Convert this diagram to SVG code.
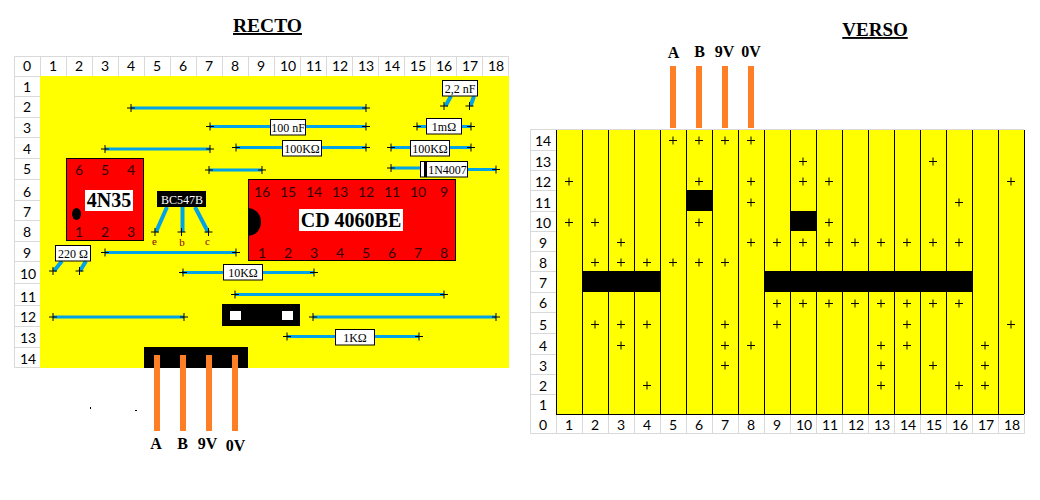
<svg xmlns="http://www.w3.org/2000/svg" width="1040" height="500" viewBox="0 0 1040 500">
<style>
text{font-family:"Liberation Serif","Times New Roman",serif;fill:#000;text-anchor:middle}
.n text,text.n{font-family:Lato,"Liberation Sans",sans-serif;font-size:14px}
.cell{fill:none;stroke:#d9d9d9;stroke-width:1}
.y{fill:#ff0}
.k{fill:#000}
.w{fill:none;stroke:#00a2e8;stroke-width:3}
.l{fill:none;stroke:#00a2e8;stroke-width:4}
.o{fill:#ff7f27}
.v{fill:none;stroke:#000;stroke-width:1}
.b{fill:#fff;stroke:#000;stroke-width:1}
.lab{font-size:12px}
.conn{font-size:16px;font-weight:bold}
.title{font-size:19px;font-weight:bold;text-decoration:underline}
.chip{fill:#f00;stroke:#000;stroke-width:1}
.bold{font-size:20px;font-weight:bold}
.pin{font-family:Lato,"Liberation Sans",sans-serif;font-size:14px;fill:#300}
</style>
<defs>
<path id="p" d="M-4 0h8M0-4v8" fill="none" stroke="#000" stroke-width="1"/>
</defs>
<rect width="1040" height="500" fill="#fff"/>
<text class="title" x="267.500" y="32" style="font-size:19.500px">RECTO</text>
<text class="title" x="875" y="36">VERSO</text>

<g id="recto-board">
<path class="cell" d="M14.500 56.500H508.500V76.500H14.500ZM40.500 56.500V368M66.500 56.500V76.500M92.500 56.500V76.500M118.500 56.500V76.500M144.500 56.500V76.500M170.500 56.500V76.500M196.500 56.500V76.500M222.500 56.500V76.500M248.500 56.500V76.500M274.500 56.500V76.500M300.500 56.500V76.500M326.500 56.500V76.500M352.500 56.500V76.500M378.500 56.500V76.500M404.500 56.500V76.500M430.500 56.500V76.500M456.500 56.500V76.500M482.500 56.500V76.500M14.500 76.500V367.500H40.500M14.500 96.500H40.500M14.500 117.500H40.500M14.500 137.500H40.500M14.500 158.500H40.500M14.500 179.500H40.500M14.500 200.500H40.500M14.500 220.500H40.500M14.500 241.500H40.500M14.500 261.500H40.500M14.500 283.500H40.500M14.500 305.500H40.500M14.500 326.500H40.500M14.500 347.500H40.500"/>
<rect class="y" x="40" y="76" width="469" height="292"/>
<g class="n">
<text x="27" y="71">0</text><text x="53" y="71">1</text><text x="79" y="71">2</text><text x="105" y="71">3</text><text x="131" y="71">4</text><text x="157" y="71">5</text><text x="183" y="71">6</text><text x="209" y="71">7</text><text x="235" y="71">8</text><text x="261" y="71">9</text><text x="288" y="71">10</text><text x="314" y="71">11</text><text x="340" y="71">12</text><text x="366" y="71">13</text><text x="392" y="71">14</text><text x="418" y="71">15</text><text x="444" y="71">16</text><text x="470" y="71">17</text><text x="496" y="71">18</text>
<text x="27" y="92">1</text><text x="27" y="112">2</text><text x="27" y="133">3</text><text x="27" y="154">4</text><text x="27" y="174">5</text><text x="27" y="197">6</text><text x="27" y="217">7</text><text x="27" y="237">8</text><text x="27" y="258">9</text><text x="28" y="279">10</text><text x="28" y="302">11</text><text x="28" y="322">12</text><text x="28" y="343">13</text><text x="28" y="364">14</text>
</g>
</g>

<g id="connectors">
<path class="w" d="M131 108H366M210 126.500H366M105 149H210M236 147.500H366M209 170H262M417 126.500H471M391 147.500H471M391 168H421M467 169.500H496M105 252.500H236M182 272.500H314M235 294.500H444M53 317H184M313 317H496M287 336.500H419"/>
<path class="l" d="M451 96L445.500 106M474 96L470.500 106M62 261L54 271M86 261L80 271M167 207L156 232M182.500 207V232M195 207L208 232"/>
<g>
<use href="#p" x="131" y="108"/><use href="#p" x="366" y="108"/>
<use href="#p" x="210" y="126.500"/><use href="#p" x="366" y="126.500"/>
<use href="#p" x="105" y="149"/><use href="#p" x="210" y="149"/>
<use href="#p" x="236" y="147.500"/><use href="#p" x="366" y="147.500"/>
<use href="#p" x="209" y="170"/><use href="#p" x="262" y="170"/>
<use href="#p" x="417" y="126.500"/><use href="#p" x="471" y="126.500"/>
<use href="#p" x="391" y="147.500"/><use href="#p" x="471" y="147.500"/>
<use href="#p" x="391" y="168"/><use href="#p" x="496" y="169.500"/>
<use href="#p" x="444" y="106"/><use href="#p" x="469.500" y="106"/>
<use href="#p" x="53" y="271"/><use href="#p" x="79.500" y="271"/>
<use href="#p" x="155" y="232"/><use href="#p" x="181.500" y="232"/><use href="#p" x="208.500" y="232"/>
<use href="#p" x="105" y="252.500"/><use href="#p" x="236" y="252.500"/>
<use href="#p" x="183" y="272.500"/><use href="#p" x="314" y="272.500"/>
<use href="#p" x="235" y="294.500"/><use href="#p" x="444" y="294.500"/>
<use href="#p" x="53" y="317"/><use href="#p" x="184" y="317"/>
<use href="#p" x="313" y="317"/><use href="#p" x="496" y="317"/>
<use href="#p" x="287" y="336.500"/><use href="#p" x="419" y="336.500"/>
</g>
</g>

<g id="c-100nf"><rect class="b" x="270.500" y="119.500" width="35" height="15.500"/><text class="lab" x="288" y="131.500">100 nF</text></g>
<g id="r-100k-a"><rect class="b" x="282.500" y="140.500" width="39" height="15.500"/><text class="lab" x="302" y="152.500">100KΩ</text></g>
<g id="r-1m"><rect class="b" x="426.500" y="118.500" width="35" height="15.500"/><text class="lab" x="444" y="130.500">1mΩ</text></g>
<g id="r-100k-b"><rect class="b" x="410.500" y="140.500" width="39" height="15.500"/><text class="lab" x="430" y="152.500">100KΩ</text></g>
<g id="d-1n4007"><rect class="b" x="420.500" y="161.500" width="47" height="15.500"/><rect class="k" x="424" y="161" width="3" height="16"/><text class="lab" x="447.500" y="173.500">1N4007</text></g>
<g id="c-2n2"><rect class="b" x="442.500" y="80.500" width="35" height="15.500"/><text class="lab" x="460" y="92.500">2,2 nF</text></g>
<g id="r-220"><rect class="b" x="55.500" y="245.500" width="35" height="15.500"/><text class="lab" x="73" y="257.500">220 Ω</text></g>
<g id="r-10k"><rect class="b" x="223.500" y="264.500" width="39" height="15.500"/><text class="lab" x="243" y="276.500">10KΩ</text></g>
<g id="r-1k"><rect class="b" x="335.500" y="329.500" width="39" height="15.500"/><text class="lab" x="355" y="341.500">1KΩ</text></g>

<g id="u-4n35">
<rect class="chip" x="66.500" y="158.500" width="77" height="82"/>
<ellipse class="k" cx="76.500" cy="214" rx="4.500" ry="6"/>
<rect x="85" y="190" width="48" height="21" fill="#fff"/>
<text class="bold" x="109" y="207">4N35</text>
<text class="pin" x="79" y="175">6</text><text class="pin" x="105" y="175">5</text><text class="pin" x="131" y="175">4</text>
<text class="pin" x="79" y="237">1</text><text class="pin" x="105" y="237">2</text><text class="pin" x="131" y="237">3</text>
</g>

<g id="q-bc547b">
<rect class="k" x="157" y="191" width="49" height="16"/>
<text x="182" y="204" style="font-size:12px;fill:#fff">BC547B</text>
<text x="154.500" y="245" style="font-size:11px;fill:#800000">e</text>
<text x="182" y="246" style="font-size:11px;fill:#800000">b</text>
<text x="207.500" y="245" style="font-size:11px;fill:#800000">c</text>
</g>

<g id="u-cd4060">
<rect class="chip" x="248.500" y="179.500" width="207" height="81"/>
<path class="k" d="M248 208A13 14 0 0 1 248 236Z"/>
<rect x="299" y="209" width="104" height="22" fill="#fff"/>
<text class="bold" x="351" y="227">CD 4060BE</text>
<text class="pin" x="262" y="197">16</text><text class="pin" x="288" y="197">15</text><text class="pin" x="314" y="197">14</text><text class="pin" x="340" y="197">13</text><text class="pin" x="366" y="197">12</text><text class="pin" x="392" y="197">11</text><text class="pin" x="418" y="197">10</text><text class="pin" x="444" y="197">9</text>
<text class="pin" x="262" y="258">1</text><text class="pin" x="288" y="258">2</text><text class="pin" x="314" y="258">3</text><text class="pin" x="340" y="258">4</text><text class="pin" x="366" y="258">5</text><text class="pin" x="392" y="258">6</text><text class="pin" x="418" y="258">7</text><text class="pin" x="444" y="258">8</text>
</g>

<g id="switch">
<rect class="k" x="222" y="304" width="78" height="22"/>
<rect x="230" y="311" width="11" height="9" fill="#fff"/>
<rect x="282" y="311" width="11" height="9" fill="#fff"/>
</g>

<g id="connector-recto">
<rect class="k" x="144" y="347" width="104" height="21"/>
<rect class="o" x="154" y="355" width="6" height="76"/><rect class="o" x="180" y="355" width="6" height="76"/><rect class="o" x="206" y="355" width="6" height="76"/><rect class="o" x="232" y="355" width="6" height="76"/>
<text class="conn" x="156" y="449">A</text><text class="conn" x="182.500" y="449">B</text><text class="conn" x="207.500" y="449">9V</text><text class="conn" x="235.500" y="451">0V</text>
</g>
<rect class="k" x="90" y="407" width="1" height="2"/><rect class="k" x="135" y="410" width="2" height="1"/>

<g id="verso-board">
<rect class="y" x="556" y="129" width="468" height="285"/>
<path class="cell" d="M530.500 129.500H1024M530.500 129.500V433.500H1024.500V414M530.500 150.500H556M530.500 170.500H556M530.500 190.500H556M530.500 211.500H556M530.500 231.500H556M530.500 251.500H556M530.500 271.500H556M530.500 292.500H556M530.500 312.500H556M530.500 333.500H556M530.500 354.500H556M530.500 374.500H556M530.500 394.500H556M582.500 414V433M608.500 414V433M634.500 414V433M660.500 414V433M686.500 414V433M712.500 414V433M738.500 414V433M764.500 414V433M790.500 414V433M816.500 414V433M842.500 414V433M868.500 414V433M894.500 414V433M920.500 414V433M946.500 414V433M972.500 414V433M998.500 414V433M556.500 414V433"/>
<path class="v" d="M556.500 130V414M582.500 130V414M608.500 130V414M634.500 130V414M660.500 130V414M686.500 130V414M712.500 130V414M738.500 130V414M764.500 130V414M790.500 130V414M816.500 130V414M842.500 130V414M868.500 130V414M894.500 130V414M920.500 130V414M946.500 130V414M972.500 130V414M998.500 130V414M1024.500 130V414M556 414.500H1024"/>
<rect class="k" x="686" y="190" width="26" height="21"/>
<rect class="k" x="790" y="211" width="26" height="20"/>
<rect class="k" x="582" y="271" width="78" height="21"/>
<rect class="k" x="764" y="271" width="209" height="21"/>
<g class="n">
<text x="543" y="145.500">14</text><text x="543" y="166.500">13</text><text x="543" y="186.500">12</text><text x="543" y="207.500">11</text><text x="543" y="227.500">10</text><text x="543" y="247.500">9</text><text x="543" y="267.500">8</text><text x="543" y="288">7</text><text x="543" y="308">6</text><text x="543" y="329.500">5</text><text x="543" y="350.500">4</text><text x="543" y="370.500">3</text><text x="543" y="390.500">2</text><text x="543" y="410">1</text>
<text x="543" y="430">0</text><text x="569" y="430">1</text><text x="595" y="430">2</text><text x="621" y="430">3</text><text x="647" y="430">4</text><text x="673" y="430">5</text><text x="699" y="430">6</text><text x="725" y="430">7</text><text x="751" y="430">8</text><text x="777" y="430">9</text><text x="804" y="430">10</text><text x="830" y="430">11</text><text x="856" y="430">12</text><text x="882" y="430">13</text><text x="908" y="430">14</text><text x="934" y="430">15</text><text x="960" y="430">16</text><text x="986" y="430">17</text><text x="1012" y="430">18</text>
</g>
<g transform="translate(0,140.500)"><use href="#p" x="673"/><use href="#p" x="699"/><use href="#p" x="725"/><use href="#p" x="751"/></g>
<g transform="translate(0,161.500)"><use href="#p" x="803"/><use href="#p" x="933"/></g>
<g transform="translate(0,181.500)"><use href="#p" x="569"/><use href="#p" x="699"/><use href="#p" x="751"/><use href="#p" x="803"/><use href="#p" x="829"/><use href="#p" x="1011"/></g>
<g transform="translate(0,202.500)"><use href="#p" x="751"/><use href="#p" x="959"/></g>
<g transform="translate(0,222.500)"><use href="#p" x="569"/><use href="#p" x="595"/><use href="#p" x="699"/><use href="#p" x="829"/></g>
<g transform="translate(0,242.500)"><use href="#p" x="621"/><use href="#p" x="751"/><use href="#p" x="777"/><use href="#p" x="803"/><use href="#p" x="829"/><use href="#p" x="855"/><use href="#p" x="881"/><use href="#p" x="907"/><use href="#p" x="933"/><use href="#p" x="959"/></g>
<g transform="translate(0,262.500)"><use href="#p" x="595"/><use href="#p" x="621"/><use href="#p" x="647"/><use href="#p" x="673"/><use href="#p" x="699"/><use href="#p" x="725"/></g>
<g transform="translate(0,303.500)"><use href="#p" x="777"/><use href="#p" x="803"/><use href="#p" x="829"/><use href="#p" x="855"/><use href="#p" x="881"/><use href="#p" x="907"/><use href="#p" x="933"/><use href="#p" x="959"/></g>
<g transform="translate(0,324.500)"><use href="#p" x="595"/><use href="#p" x="621"/><use href="#p" x="647"/><use href="#p" x="725"/><use href="#p" x="777"/><use href="#p" x="907"/><use href="#p" x="1011"/></g>
<g transform="translate(0,345.500)"><use href="#p" x="621"/><use href="#p" x="725"/><use href="#p" x="751"/><use href="#p" x="881"/><use href="#p" x="907"/><use href="#p" x="985"/></g>
<g transform="translate(0,365.500)"><use href="#p" x="725"/><use href="#p" x="881"/><use href="#p" x="933"/><use href="#p" x="985"/></g>
<g transform="translate(0,385.500)"><use href="#p" x="647"/><use href="#p" x="881"/><use href="#p" x="959"/><use href="#p" x="985"/></g>
</g>

<g id="connector-verso">
<rect class="o" x="670" y="66" width="6" height="62"/><rect class="o" x="696" y="66" width="6" height="62"/><rect class="o" x="722" y="66" width="6" height="62"/><rect class="o" x="748" y="66" width="6" height="62"/>
<text class="conn" x="673.500" y="58">A</text><text class="conn" x="699.500" y="57">B</text><text class="conn" x="724.500" y="57">9V</text><text class="conn" x="751" y="57">0V</text>
</g>
</svg>
